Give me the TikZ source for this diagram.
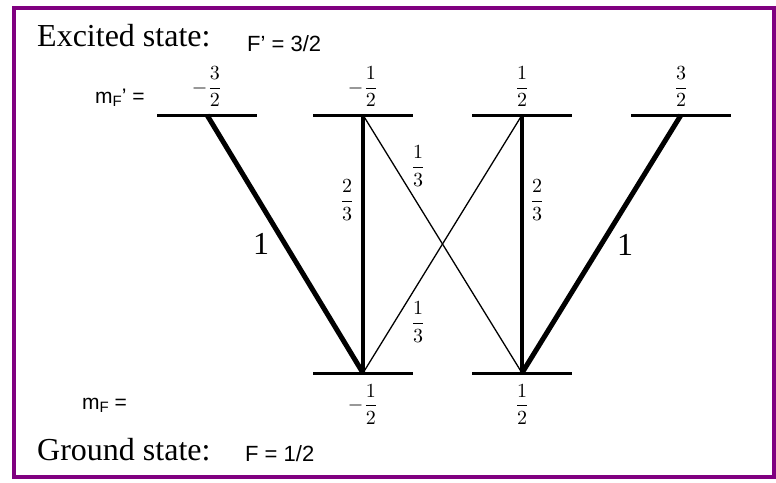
\RequirePackage{fix-cm}
\documentclass[tikz,border=0pt]{standalone}
\usepackage[no-math]{fontspec}
\setmainfont{Liberation Serif}
\newfontfamily\arialfont{Liberation Sans}
\usepackage{amsmath}
\usepackage{graphicx}
\usepackage{xcolor}
\usetikzlibrary{positioning}
\definecolor{framepurple}{RGB}{128,0,128}
\newcommand{\bigfrac}[1]{\scalebox{2.0}{$#1$}}
\newcommand{\subF}{\raisebox{-0.3ex}{\fontsize{15}{15}\selectfont F}}

\begin{document}
\begin{tikzpicture}[x=1pt, y=-1pt,
    level/.style={line width=3pt},
    strong/.style={line width=5pt},
    medium/.style={line width=3.3pt},
    weak/.style={line width=1.3pt},
    mfrac/.style={inner sep=0pt},
    weight/.style={inner sep=0pt},
    bigone/.style={inner sep=0pt, font=\fontsize{32}{32}\selectfont},
    statetext/.style={anchor=base west, inner sep=0pt, font=\fontsize{32}{32}\selectfont},
    sanstext/.style={anchor=base west, inner sep=0pt, font=\arialfont\fontsize{22}{22}\selectfont}]
  \useasboundingbox (0,0) rectangle (776,482);
  \draw[framepurple, line width=4pt] (13.5,8) rectangle (773.5,477);

  % sublevels
  \coordinate (e1) at (207,115);
  \coordinate (e2) at (363,115);
  \coordinate (e3) at (522,115);
  \coordinate (e4) at (681,115);
  \coordinate (g1) at (363,373);
  \coordinate (g2) at (522,373);
  \foreach \c in {e1,e2,e3,e4,g1,g2}
    \draw[level] ([xshift=-50pt]\c) -- ([xshift=50pt]\c);

  % transitions
  \draw[strong] (e1) -- (g1);
  \draw[medium] (e2) -- (g1);
  \draw[weak] (e2) -- (g2);
  \draw[weak] (e3) -- (g1);
  \draw[medium] (e3) -- (g2);
  \draw[strong] (e4) -- (g2);

  % m_F values
  \node[mfrac, above=8pt of e1] (me1) {\bigfrac{-\dfrac{3}{2}}};
  \node[mfrac, above=8pt of e2] (me2) {\bigfrac{-\dfrac{1}{2}}};
  \node[mfrac, above=8pt of e3] (me3) {\bigfrac{\dfrac{1}{2}}};
  \node[mfrac, above=8pt of e4] (me4) {\bigfrac{\dfrac{3}{2}}};
  \node[mfrac, below=11pt of g1] (mg1) {\bigfrac{-\dfrac{1}{2}}};
  \node[mfrac, below=11pt of g2] (mg2) {\bigfrac{\dfrac{1}{2}}};

  % relative strengths
  \node[bigone] (w11) at (261,244) {1};
  \node[bigone] (w22) at (625,245) {1};
  \node[weight] (w12) at (347,200) {\bigfrac{\dfrac{2}{3}}};
  \node[weight] (w21) at (537,200) {\bigfrac{\dfrac{2}{3}}};
  \node[weight] (w13) at (418,166) {\bigfrac{\dfrac{1}{3}}};
  \node[weight] (w31) at (418,322) {\bigfrac{\dfrac{1}{3}}};

  % state labels
  \node[statetext] (excited) at (37,46) {Excited state:};
  \node[sanstext] (fexc) at (247,51) {F’ = 3/2};
  \node[sanstext, font=\arialfont\fontsize{21}{21}\selectfont] (mexc) at (95,103) {m\subF’ =};
  \node[sanstext, font=\arialfont\fontsize{21}{21}\selectfont] (mgnd) at (82,409) {m\subF{} =};
  \node[statetext] (ground) at (37,460) {Ground state:};
  \node[sanstext] (fgnd) at (245,461) {F = 1/2};
\end{tikzpicture}
\end{document}
